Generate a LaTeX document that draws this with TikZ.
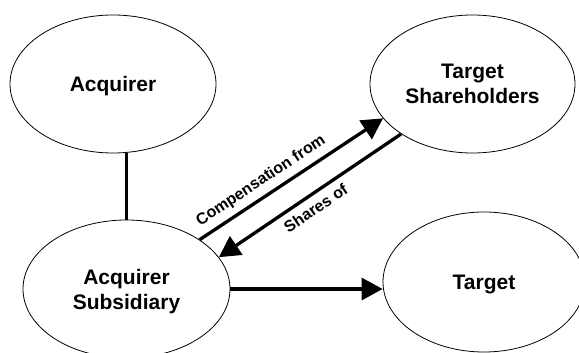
\documentclass[tikz,border=0pt]{standalone}
\usepackage{fontspec}
\setmainfont{Liberation Sans}
\usetikzlibrary{shapes.geometric,arrows.meta}
\begin{document}
\begin{tikzpicture}[x=1pt,y=-1pt,
  ell/.style={draw=black,line width=0.8pt,ellipse,inner sep=0pt,align=center,
    font=\fontsize{21}{25}\selectfont\bfseries,text depth=0pt},
  conn/.style={line width=3.3pt},
  arr/.style={conn,-{Triangle[length=21pt,width=22pt]}},
  lbl/.style={font=\fontsize{16}{19}\selectfont\bfseries,inner sep=0pt,sloped}]
\useasboundingbox (0,0) rectangle (579,353);
\node[ell,minimum width=206pt,minimum height=138pt] (acq) at (113,84) {Acquirer};
\node[ell,minimum width=205pt,minimum height=138pt] (ts) at (472.5,84) {Target\\Shareholders};
\node[ell,minimum width=207pt,minimum height=138pt] (sub) at (126.5,289) {Acquirer\\Subsidiary};
\node[ell,minimum width=202pt,minimum height=140pt] (tgt) at (484,282) {Target};
\draw[conn] (sub.north) -- (sub.north |- acq.south);
\draw[arr] (sub.34) -- node[lbl,pos=0.38,above=6pt] {Compensation from} (ts.201);
\draw[arr] (ts.215) -- node[lbl,pos=0.51,below=6pt] {Shares of} (sub.19);
\draw[arr] (sub.east) -- (sub.east -| tgt.west);
\end{tikzpicture}
\end{document}
